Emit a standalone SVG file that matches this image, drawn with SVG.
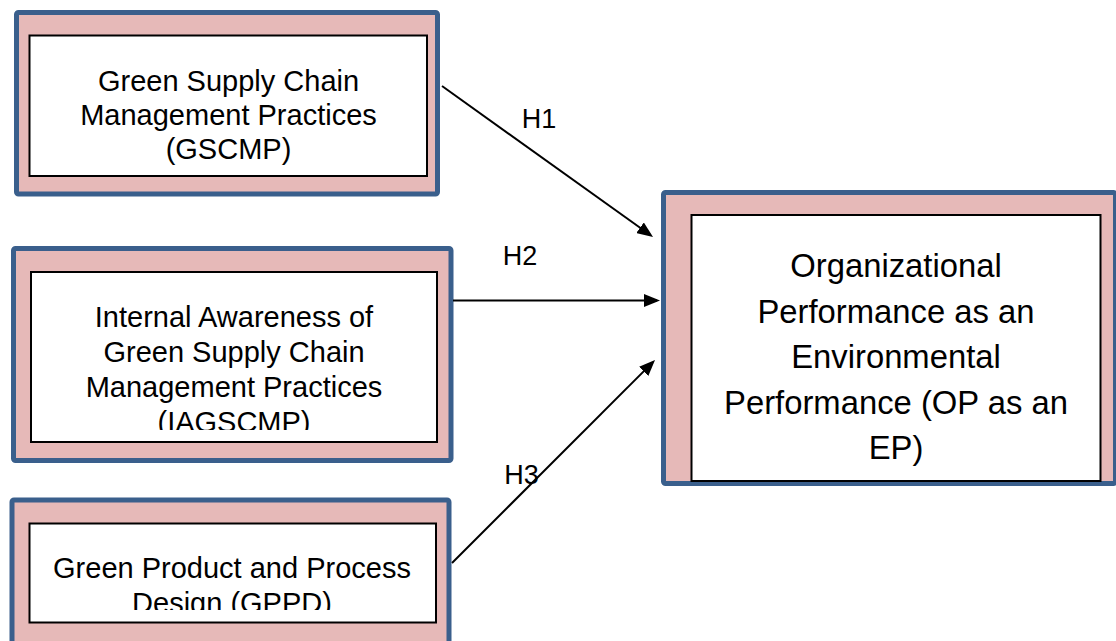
<svg xmlns="http://www.w3.org/2000/svg" width="1116" height="641" viewBox="0 0 1116 641">
  <style>
    .frame { fill: #E6B9B8; stroke: #3A5F8C; stroke-width: 5; }
    .panel { fill: #FFFFFF; stroke: #000000; stroke-width: 2; }
    .lbl { font-family: "Liberation Sans", Arial, sans-serif; font-size: 29px; fill: #000000; text-anchor: middle; }
    .big { font-size: 32.8px; }
    .hyp { font-family: "Liberation Sans", Arial, sans-serif; font-size: 27px; fill: #000000; text-anchor: middle; }
    .link { stroke: #000000; stroke-width: 2; fill: none; marker-end: url(#head); }
  </style>
  <defs>
    <marker id="head" markerUnits="userSpaceOnUse" markerWidth="16" markerHeight="13" viewBox="0 0 16 13" refX="13" refY="6.5" orient="auto">
      <path d="M0,0 L16,6.5 L0,13 z" fill="#000000"/>
    </marker>
    <clipPath id="clipIag"><rect x="31" y="272" width="406" height="158"/></clipPath>
    <clipPath id="clipGppd"><rect x="29.5" y="523.5" width="406.5" height="86.5"/></clipPath>
  </defs>

  <rect width="1116" height="641" fill="#FFFFFF"/>

  <!-- GSCMP -->
  <g id="gscmp">
    <rect class="frame" x="16.5" y="12.5" width="421" height="181.5" rx="2"/>
    <rect class="panel" x="29.5" y="35.5" width="397.5" height="140.5"/>
    <text class="lbl" x="228.5" y="91">Green Supply Chain</text>
    <text class="lbl" x="228.5" y="125">Management Practices</text>
    <text class="lbl" x="228.5" y="159">(GSCMP)</text>
  </g>

  <!-- IAGSCMP -->
  <g id="iagscmp">
    <rect class="frame" x="13.5" y="248.5" width="437.5" height="212" rx="2"/>
    <rect class="panel" x="31" y="272" width="406" height="170"/>
    <g clip-path="url(#clipIag)">
      <text class="lbl" x="234" y="326.5">Internal Awareness of</text>
      <text class="lbl" x="234" y="361.5">Green Supply Chain</text>
      <text class="lbl" x="234" y="396.5">Management Practices</text>
      <text class="lbl" x="234" y="431.5">(IAGSCMP)</text>
    </g>
  </g>

  <!-- GPPD -->
  <g id="gppd">
    <rect class="frame" x="12" y="500" width="437" height="200" rx="2"/>
    <rect class="panel" x="29.5" y="523.5" width="406.5" height="99"/>
    <g clip-path="url(#clipGppd)">
      <text class="lbl" x="232" y="577.5">Green Product and Process</text>
      <text class="lbl" x="232" y="612.5">Design (GPPD)</text>
    </g>
  </g>

  <!-- OP as an EP -->
  <g id="opep">
    <rect class="frame" x="663.5" y="192.5" width="452" height="291" rx="2"/>
    <rect class="panel" x="691.5" y="215" width="409" height="266"/>
    <text class="lbl big" x="896" y="277">Organizational</text>
    <text class="lbl big" x="896" y="322.5">Performance as an</text>
    <text class="lbl big" x="896" y="368">Environmental</text>
    <text class="lbl big" x="896" y="413.5">Performance (OP as an</text>
    <text class="lbl big" x="896" y="459">EP)</text>
  </g>

  <!-- hypothesis paths -->
  <g id="connectors">
    <line class="link" x1="442" y1="86" x2="650.6" y2="235.3"/>
    <line class="link" x1="453" y1="300.5" x2="657" y2="300.5"/>
    <line class="link" x1="452" y1="563" x2="652.9" y2="362.1"/>
    <text class="hyp" x="539" y="127.5">H1</text>
    <text class="hyp" x="520" y="265">H2</text>
    <text class="hyp" x="521.5" y="484">H3</text>
  </g>
</svg>
